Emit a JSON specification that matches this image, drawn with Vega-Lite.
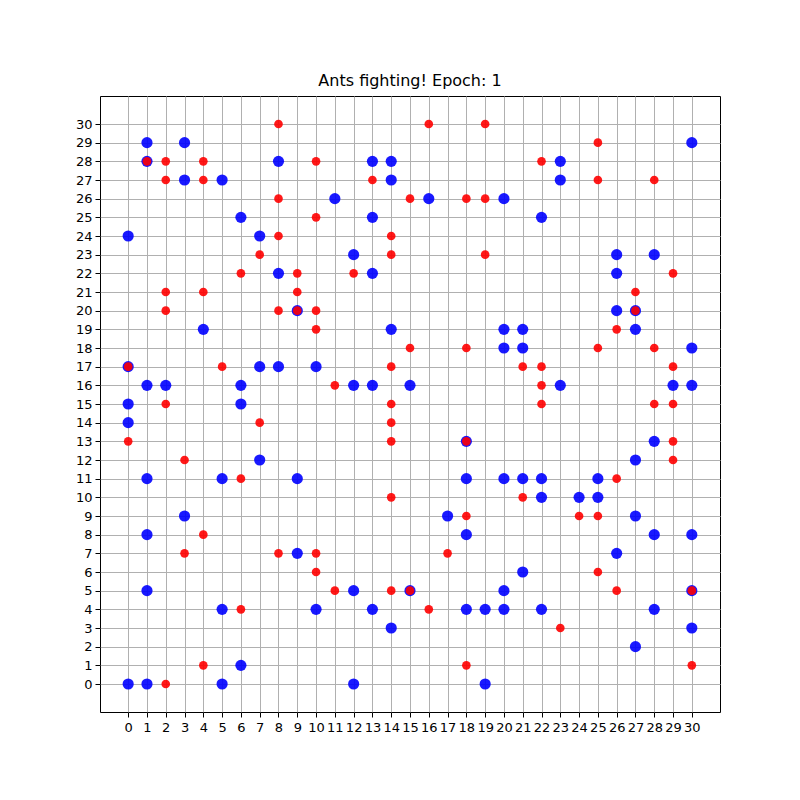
{
  "$schema": "https://vega.github.io/schema/vega-lite/v6.json",
  "width": 620,
  "height": 616,
  "autosize": "none",
  "padding": {"left": 100, "top": 96, "right": 80, "bottom": 88},
  "background": "white",
  "config": {
    "font": "DejaVu Sans",
    "view": {"stroke": "black", "strokeWidth": 1},
    "axis": {
      "domain": false,
      "grid": true,
      "gridColor": "#b0b0b0",
      "gridWidth": 1,
      "gridOpacity": 1,
      "ticks": true,
      "tickColor": "black",
      "tickSize": 5,
      "tickWidth": 1,
      "labelColor": "black",
      "labelFont": "DejaVu Sans",
      "labelFontSize": 13,
      "labelPadding": 4,
      "title": null,
      "zindex": 1
    }
  },
  "title": {"text": "Ants fighting! Epoch: 1", "fontSize": 16, "fontWeight": "normal", "font": "DejaVu Sans", "color": "black", "offset": 7, "anchor": "middle"},
  "datasets": {
    "ants": [
      {"x":1,"y":29,"team":"blue"},{"x":3,"y":29,"team":"blue"},{"x":30,"y":29,"team":"blue"},
      {"x":1,"y":28,"team":"blue"},{"x":8,"y":28,"team":"blue"},{"x":13,"y":28,"team":"blue"},{"x":14,"y":28,"team":"blue"},{"x":23,"y":28,"team":"blue"},
      {"x":3,"y":27,"team":"blue"},{"x":5,"y":27,"team":"blue"},{"x":14,"y":27,"team":"blue"},{"x":23,"y":27,"team":"blue"},
      {"x":11,"y":26,"team":"blue"},{"x":16,"y":26,"team":"blue"},{"x":20,"y":26,"team":"blue"},
      {"x":6,"y":25,"team":"blue"},{"x":13,"y":25,"team":"blue"},{"x":22,"y":25,"team":"blue"},
      {"x":0,"y":24,"team":"blue"},{"x":7,"y":24,"team":"blue"},
      {"x":12,"y":23,"team":"blue"},{"x":26,"y":23,"team":"blue"},{"x":28,"y":23,"team":"blue"},
      {"x":8,"y":22,"team":"blue"},{"x":13,"y":22,"team":"blue"},{"x":26,"y":22,"team":"blue"},
      {"x":9,"y":20,"team":"blue"},{"x":26,"y":20,"team":"blue"},{"x":27,"y":20,"team":"blue"},
      {"x":4,"y":19,"team":"blue"},{"x":14,"y":19,"team":"blue"},{"x":20,"y":19,"team":"blue"},{"x":21,"y":19,"team":"blue"},{"x":27,"y":19,"team":"blue"},
      {"x":20,"y":18,"team":"blue"},{"x":21,"y":18,"team":"blue"},{"x":30,"y":18,"team":"blue"},
      {"x":0,"y":17,"team":"blue"},{"x":7,"y":17,"team":"blue"},{"x":8,"y":17,"team":"blue"},{"x":10,"y":17,"team":"blue"},
      {"x":1,"y":16,"team":"blue"},{"x":2,"y":16,"team":"blue"},{"x":6,"y":16,"team":"blue"},{"x":12,"y":16,"team":"blue"},{"x":13,"y":16,"team":"blue"},{"x":15,"y":16,"team":"blue"},{"x":23,"y":16,"team":"blue"},{"x":29,"y":16,"team":"blue"},{"x":30,"y":16,"team":"blue"},
      {"x":0,"y":15,"team":"blue"},{"x":6,"y":15,"team":"blue"},
      {"x":0,"y":14,"team":"blue"},
      {"x":18,"y":13,"team":"blue"},{"x":28,"y":13,"team":"blue"},
      {"x":7,"y":12,"team":"blue"},{"x":27,"y":12,"team":"blue"},
      {"x":1,"y":11,"team":"blue"},{"x":5,"y":11,"team":"blue"},{"x":9,"y":11,"team":"blue"},{"x":18,"y":11,"team":"blue"},{"x":20,"y":11,"team":"blue"},{"x":21,"y":11,"team":"blue"},{"x":22,"y":11,"team":"blue"},{"x":25,"y":11,"team":"blue"},
      {"x":22,"y":10,"team":"blue"},{"x":24,"y":10,"team":"blue"},{"x":25,"y":10,"team":"blue"},
      {"x":3,"y":9,"team":"blue"},{"x":17,"y":9,"team":"blue"},{"x":27,"y":9,"team":"blue"},
      {"x":1,"y":8,"team":"blue"},{"x":18,"y":8,"team":"blue"},{"x":28,"y":8,"team":"blue"},{"x":30,"y":8,"team":"blue"},
      {"x":9,"y":7,"team":"blue"},{"x":26,"y":7,"team":"blue"},
      {"x":21,"y":6,"team":"blue"},
      {"x":1,"y":5,"team":"blue"},{"x":12,"y":5,"team":"blue"},{"x":15,"y":5,"team":"blue"},{"x":20,"y":5,"team":"blue"},{"x":30,"y":5,"team":"blue"},
      {"x":5,"y":4,"team":"blue"},{"x":10,"y":4,"team":"blue"},{"x":13,"y":4,"team":"blue"},{"x":18,"y":4,"team":"blue"},{"x":19,"y":4,"team":"blue"},{"x":20,"y":4,"team":"blue"},{"x":22,"y":4,"team":"blue"},{"x":28,"y":4,"team":"blue"},
      {"x":14,"y":3,"team":"blue"},{"x":30,"y":3,"team":"blue"},
      {"x":27,"y":2,"team":"blue"},
      {"x":6,"y":1,"team":"blue"},
      {"x":0,"y":0,"team":"blue"},{"x":1,"y":0,"team":"blue"},{"x":5,"y":0,"team":"blue"},{"x":12,"y":0,"team":"blue"},{"x":19,"y":0,"team":"blue"},
      {"x":8,"y":30,"team":"red"},{"x":16,"y":30,"team":"red"},{"x":19,"y":30,"team":"red"},
      {"x":25,"y":29,"team":"red"},
      {"x":1,"y":28,"team":"red"},{"x":2,"y":28,"team":"red"},{"x":4,"y":28,"team":"red"},{"x":10,"y":28,"team":"red"},{"x":22,"y":28,"team":"red"},
      {"x":2,"y":27,"team":"red"},{"x":4,"y":27,"team":"red"},{"x":13,"y":27,"team":"red"},{"x":25,"y":27,"team":"red"},{"x":28,"y":27,"team":"red"},
      {"x":8,"y":26,"team":"red"},{"x":15,"y":26,"team":"red"},{"x":18,"y":26,"team":"red"},{"x":19,"y":26,"team":"red"},
      {"x":10,"y":25,"team":"red"},
      {"x":8,"y":24,"team":"red"},{"x":14,"y":24,"team":"red"},
      {"x":7,"y":23,"team":"red"},{"x":14,"y":23,"team":"red"},{"x":19,"y":23,"team":"red"},
      {"x":6,"y":22,"team":"red"},{"x":9,"y":22,"team":"red"},{"x":12,"y":22,"team":"red"},{"x":29,"y":22,"team":"red"},
      {"x":2,"y":21,"team":"red"},{"x":4,"y":21,"team":"red"},{"x":9,"y":21,"team":"red"},{"x":27,"y":21,"team":"red"},
      {"x":2,"y":20,"team":"red"},{"x":8,"y":20,"team":"red"},{"x":9,"y":20,"team":"red"},{"x":10,"y":20,"team":"red"},{"x":27,"y":20,"team":"red"},
      {"x":10,"y":19,"team":"red"},{"x":26,"y":19,"team":"red"},
      {"x":15,"y":18,"team":"red"},{"x":18,"y":18,"team":"red"},{"x":25,"y":18,"team":"red"},{"x":28,"y":18,"team":"red"},
      {"x":0,"y":17,"team":"red"},{"x":5,"y":17,"team":"red"},{"x":14,"y":17,"team":"red"},{"x":21,"y":17,"team":"red"},{"x":22,"y":17,"team":"red"},{"x":29,"y":17,"team":"red"},
      {"x":11,"y":16,"team":"red"},{"x":22,"y":16,"team":"red"},
      {"x":2,"y":15,"team":"red"},{"x":14,"y":15,"team":"red"},{"x":22,"y":15,"team":"red"},{"x":28,"y":15,"team":"red"},{"x":29,"y":15,"team":"red"},
      {"x":7,"y":14,"team":"red"},{"x":14,"y":14,"team":"red"},
      {"x":0,"y":13,"team":"red"},{"x":14,"y":13,"team":"red"},{"x":18,"y":13,"team":"red"},{"x":29,"y":13,"team":"red"},
      {"x":3,"y":12,"team":"red"},{"x":29,"y":12,"team":"red"},
      {"x":6,"y":11,"team":"red"},{"x":26,"y":11,"team":"red"},
      {"x":14,"y":10,"team":"red"},{"x":21,"y":10,"team":"red"},
      {"x":18,"y":9,"team":"red"},{"x":24,"y":9,"team":"red"},{"x":25,"y":9,"team":"red"},
      {"x":4,"y":8,"team":"red"},
      {"x":3,"y":7,"team":"red"},{"x":8,"y":7,"team":"red"},{"x":10,"y":7,"team":"red"},{"x":17,"y":7,"team":"red"},
      {"x":10,"y":6,"team":"red"},{"x":25,"y":6,"team":"red"},
      {"x":11,"y":5,"team":"red"},{"x":14,"y":5,"team":"red"},{"x":15,"y":5,"team":"red"},{"x":26,"y":5,"team":"red"},{"x":30,"y":5,"team":"red"},
      {"x":6,"y":4,"team":"red"},{"x":16,"y":4,"team":"red"},
      {"x":23,"y":3,"team":"red"},
      {"x":4,"y":1,"team":"red"},{"x":18,"y":1,"team":"red"},{"x":30,"y":1,"team":"red"},
      {"x":2,"y":0,"team":"red"}
    ]
  },
  "data": {"name": "ants"},
  "encoding": {
    "x": {"field": "x", "type": "quantitative", "scale": {"domain": [-1.5, 31.5], "nice": false, "zero": false},
      "axis": {"values": [0,1,2,3,4,5,6,7,8,9,10,11,12,13,14,15,16,17,18,19,20,21,22,23,24,25,26,27,28,29,30], "labelAngle": 0, "labelFlush": false, "labelOverlap": false}},
    "y": {"field": "y", "type": "quantitative", "scale": {"domain": [-1.5, 31.5], "nice": false, "zero": false},
      "axis": {"values": [0,1,2,3,4,5,6,7,8,9,10,11,12,13,14,15,16,17,18,19,20,21,22,23,24,25,26,27,28,29,30], "labelFlush": false, "labelOverlap": false, "labelPadding": 3}}
  },
  "layer": [
    {
      "transform": [{"filter": "datum.team === 'blue'"}],
      "mark": {"type": "point", "shape": "circle", "filled": true, "size": 125, "color": "#0000ff", "opacity": 0.9, "clip": true}
    },
    {
      "transform": [{"filter": "datum.team === 'red'"}],
      "mark": {"type": "point", "shape": "circle", "filled": true, "size": 75, "color": "#ff0000", "opacity": 0.9, "clip": true}
    }
  ]
}
